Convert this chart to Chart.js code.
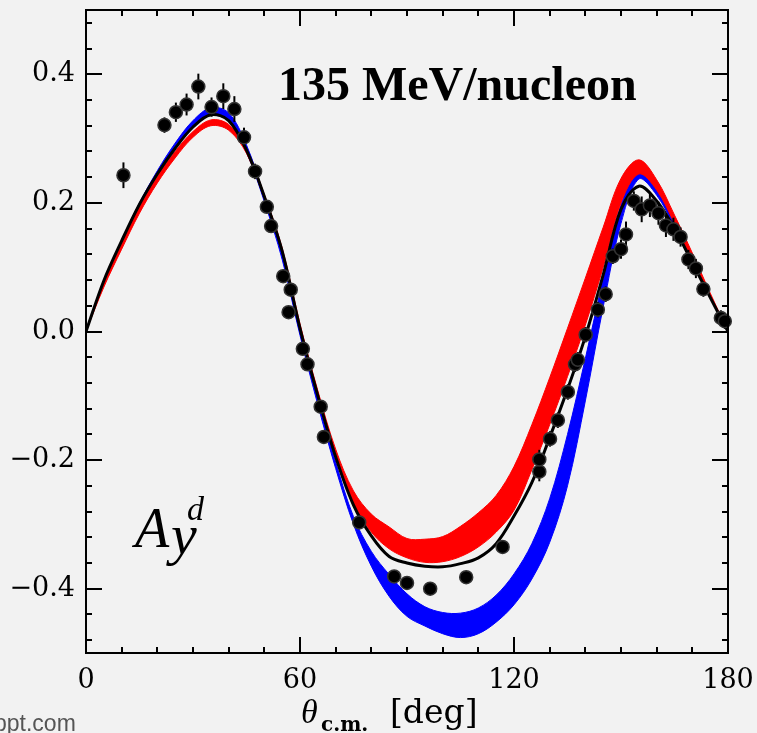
<!DOCTYPE html>
<html><head><meta charset="utf-8">
<script src="https://cdn.jsdelivr.net/npm/chart.js@4.4.1/dist/chart.umd.min.js"></script>
<style>html,body{margin:0;padding:0;background:#f2f2f2;overflow:hidden;}</style>
</head><body>
<canvas id="c" width="757" height="733"></canvas>
<script>
// ---------- data ----------
const curveAngles = [0,5,10,15,20,25,30,35,40,45,50,55,60,65,70,75,80,85,90,95,100,105,110,115,120,125,130,135,140,145,150,155,160,165,170,175,180];
const blackCurve = [0,0.079,0.141,0.198,0.245,0.285,0.318,0.337,0.328,0.282,0.210,0.125,0.005,-0.100,-0.195,-0.270,-0.318,-0.350,-0.360,-0.365,-0.366,-0.361,-0.352,-0.330,-0.287,-0.235,-0.165,-0.090,-0.008,0.088,0.190,0.226,0.203,0.160,0.107,0.053,0];
const redUpper = [0,0.076,0.137,0.194,0.241,0.280,0.311,0.329,0.322,0.283,0.213,0.130,0.012,-0.092,-0.183,-0.248,-0.284,-0.304,-0.322,-0.323,-0.319,-0.303,-0.282,-0.255,-0.210,-0.145,-0.072,0.005,0.083,0.162,0.238,0.267,0.236,0.181,0.122,0.060,0];
const redLower = [0,0.069,0.128,0.184,0.231,0.270,0.302,0.320,0.313,0.277,0.207,0.124,0.008,-0.097,-0.191,-0.268,-0.312,-0.338,-0.352,-0.359,-0.358,-0.350,-0.335,-0.312,-0.278,-0.215,-0.145,-0.070,0.010,0.100,0.200,0.245,0.220,0.168,0.112,0.056,0];
const blueUpper = [0,0.079,0.142,0.200,0.250,0.293,0.328,0.348,0.340,0.290,0.210,0.120,0.000,-0.106,-0.203,-0.288,-0.342,-0.378,-0.408,-0.428,-0.437,-0.438,-0.430,-0.410,-0.377,-0.330,-0.260,-0.160,-0.042,0.082,0.197,0.247,0.222,0.170,0.114,0.057,0];
const blueLower = [0,0.078,0.140,0.197,0.244,0.284,0.317,0.336,0.327,0.279,0.202,0.112,-0.006,-0.114,-0.213,-0.300,-0.365,-0.412,-0.443,-0.458,-0.470,-0.476,-0.470,-0.452,-0.425,-0.385,-0.328,-0.240,-0.108,0.038,0.168,0.237,0.212,0.163,0.110,0.054,0];

const dataAngle = [10.5,22.0,25.2,28.2,31.5,35.2,38.5,41.6,44.3,47.4,50.7,51.9,55.3,57.4,56.8,60.8,62.1,65.8,66.7,76.6,86.4,90.0,96.5,106.6,116.8,127.1,127.1,130.1,132.3,135.1,137.1,137.9,140.1,143.5,145.7,147.7,150.0,151.4,153.6,155.8,158.1,160.5,162.6,164.7,166.7,168.9,171.0,173.1,178.0,179.1];
const dataAy = [0.243,0.321,0.341,0.353,0.381,0.349,0.366,0.346,0.302,0.249,0.194,0.164,0.086,0.065,0.030,-0.027,-0.051,-0.117,-0.164,-0.297,-0.381,-0.391,-0.400,-0.382,-0.335,-0.218,-0.199,-0.167,-0.138,-0.094,-0.051,-0.044,-0.005,0.034,0.058,0.117,0.128,0.151,0.203,0.190,0.196,0.184,0.165,0.159,0.147,0.112,0.098,0.066,0.021,0.016];
const dataErr = [0.020,0.012,0.015,0.017,0.020,0.015,0.020,0.020,0.015,0.012,0.010,0.010,0.010,0.008,0.008,0.008,0.008,0.008,0.008,0.005,0.005,0.005,0.005,0.005,0.005,0.015,0.015,0.012,0.012,0.012,0.012,0.012,0.012,0.012,0.012,0.012,0.015,0.020,0.015,0.020,0.018,0.018,0.018,0.018,0.015,0.015,0.015,0.012,0.012,0.012];

const xTickValues = [0,60,120,180];
const yTickValues = [-0.4,-0.2,0,0.2,0.4];
const xMinorStep = 10;
const yMinorStep = 0.04;
const titleText = '135 MeV/nucleon';

// ---------- helpers ----------
const pts = ys => curveAngles.map((a,i)=>({x:a,y:ys[i]}));
const RED = '#ff0000', BLUE = '#0000ff';

const deco = {
  id:'deco',
  beforeDraw(chart){
    const c=chart.ctx; c.save(); c.fillStyle='#f2f2f2'; c.fillRect(0,0,chart.width,chart.height); c.restore();
  },
  beforeDatasetDraw(chart,args){
    if(args.index!==0) return;
    const c=chart.ctx, xs=chart.scales.x, ys=chart.scales.y;
    c.save(); c.strokeStyle='#000'; c.lineWidth=2;
    dataAngle.forEach((a,i)=>{
      const px=xs.getPixelForValue(a);
      c.beginPath();
      c.moveTo(px, ys.getPixelForValue(dataAy[i]-dataErr[i]));
      c.lineTo(px, ys.getPixelForValue(dataAy[i]+dataErr[i]));
      c.stroke();
    });
    c.restore();
  },
  afterDraw(chart){
    const c=chart.ctx, a=chart.chartArea, xs=chart.scales.x, ys=chart.scales.y;
    c.save();
    c.strokeStyle='#000'; c.lineWidth=2;
    c.strokeRect(a.left, a.top, a.right-a.left, a.bottom-a.top);
    for(let v=xs.min; v<=xs.max+1e-9; v+=xMinorStep){
      const major = xTickValues.some(t=>Math.abs(t-v)<1e-6);
      const L = major?16:6, px=Math.round(xs.getPixelForValue(v));
      c.beginPath(); c.moveTo(px,a.bottom); c.lineTo(px,a.bottom-L);
      c.moveTo(px,a.top); c.lineTo(px,a.top+L); c.stroke();
    }
    const k0=Math.ceil(ys.min/yMinorStep-1e-9), k1=Math.floor(ys.max/yMinorStep+1e-9);
    for(let k=k0;k<=k1;k++){
      const v=k*yMinorStep;
      const major = yTickValues.some(t=>Math.abs(t-v)<1e-6);
      const L = major?16:6, py=Math.round(ys.getPixelForValue(v));
      c.beginPath(); c.moveTo(a.left,py); c.lineTo(a.left+L,py);
      c.moveTo(a.right,py); c.lineTo(a.right-L,py); c.stroke();
    }
    c.fillStyle='#000'; c.textBaseline='alphabetic'; c.textAlign='left';
    c.font='bold 48px "Liberation Serif"';
    c.fillText(titleText, 278, 100);
    c.font='italic 56px "Liberation Serif"';
    c.fillText('A', 135, 547);
    c.font='italic 58px "Liberation Serif"';
    c.fillText('y', 171, 554);
    c.font='italic 34px "Liberation Serif"';
    c.fillText('d', 187, 520);
    c.font='italic 34px "Liberation Serif"';
    c.fillText('\u03B8', 301, 723);
    c.font='bold 20px "DejaVu Serif"';
    c.fillText('c.m.', 321, 731);
    c.font='33px "DejaVu Serif"';
    c.fillText('[deg]', 390, 723);
    c.fillStyle='#555';
    c.font='23px "Liberation Sans"';
    c.fillText('ppt.com', -6, 731);
    c.restore();
  }
};

const lineDs = (label, ys, color, width, order, fill) => ({
  type:'line', label, data:pts(ys), borderColor:color, backgroundColor:color,
  borderWidth:width, pointRadius:0, fill:fill, order, tension:0.35
});
const noPad = s => { s.paddingTop=0; s.paddingBottom=0; s.paddingLeft=0; s.paddingRight=0; };

new Chart(document.getElementById('c'), {
  type:'line',
  data:{ datasets:[
    { type:'scatter', label:'data', data:dataAngle.map((a,i)=>({x:a,y:dataAy[i]})),
      pointRadius:6.5, pointBackgroundColor:'#000', pointBorderColor:'#333', pointBorderWidth:1.5,
      showLine:false, clip:false, order:0 },
    lineDs('black', blackCurve, '#000', 3, 1, false),
    lineDs('redLo', redLower, RED, 1, 2, false),
    lineDs('redHi', redUpper, RED, 1, 2, 2),
    lineDs('blueLo', blueLower, BLUE, 1, 3, false),
    lineDs('blueHi', blueUpper, BLUE, 1, 3, 4)
  ]},
  options:{
    responsive:false, animation:false, events:[],
    layout:{padding:{top:10,right:29,left:0,bottom:0}},
    plugins:{legend:{display:false}, tooltip:{enabled:false}},
    scales:{
      x:{ type:'linear', min:0, max:180,
        afterBuildTicks:s=>{s.ticks=xTickValues.map(v=>({value:v}));},
        afterFit:s=>{s.height=80; noPad(s);},
        grid:{display:false, drawTicks:false}, border:{display:false},
        ticks:{color:'#000', font:{family:'DejaVu Serif', size:27}, padding:12, maxRotation:0, autoSkip:false,
          callback:v=>String(v)} },
      y:{ type:'linear', min:-0.5, max:0.5,
        afterBuildTicks:s=>{s.ticks=yTickValues.map(v=>({value:v}));},
        afterFit:s=>{s.width=86; noPad(s);},
        grid:{display:false, drawTicks:false}, border:{display:false},
        ticks:{color:'#000', font:{family:'DejaVu Serif', size:27}, padding:11, autoSkip:false,
          callback:v=>(v<-1e-9?'\u2212':'')+Math.abs(v).toFixed(1)} }
    }
  },
  plugins:[deco]
});
</script>
</body></html>
